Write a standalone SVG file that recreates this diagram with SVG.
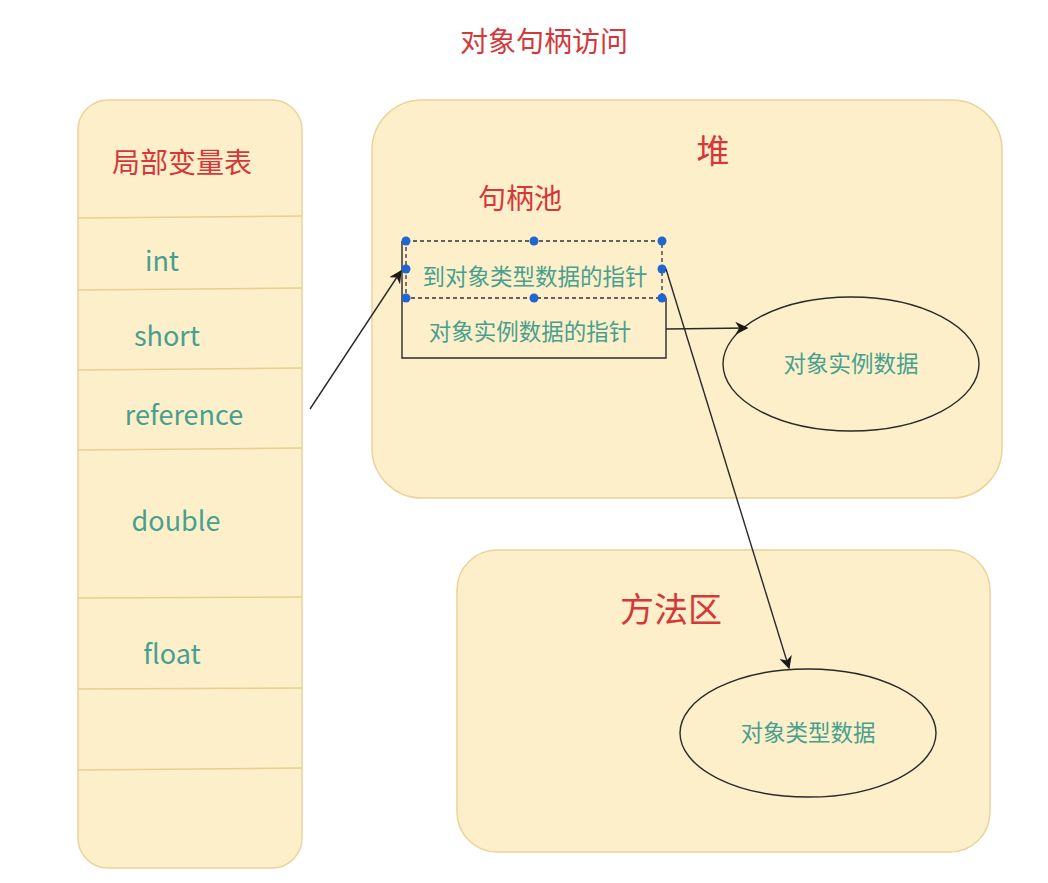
<svg xmlns="http://www.w3.org/2000/svg" width="1048" height="883" viewBox="0 0 1048 883">
<defs>
<style>
.box{fill:#fdefc9;stroke:#ead49a;stroke-width:1.5}
.sep{stroke:#e6cf8f;stroke-width:1.5;fill:none}
.red{fill:#d4383b;font-family:"Noto Sans CJK SC","Noto Sans",sans-serif;text-anchor:middle}
.teal{fill:#47a08f;font-family:"Noto Sans CJK SC","Noto Sans",sans-serif;text-anchor:middle}
.line{stroke:#2a2a2a;stroke-width:1.4;fill:none}
.ell{fill:#fdefc9;stroke:#2a2a2a;stroke-width:1.4}
.h{fill:#1f66d1}
</style>
<marker id="arr" viewBox="0 0 10 10" refX="9" refY="5" markerWidth="13" markerHeight="13" markerUnits="userSpaceOnUse" orient="auto">
<path d="M0,0 L10,5 L0,10 L3,5 Z" fill="#1a1a1a"/>
</marker>
</defs>
<rect width="1048" height="883" fill="#ffffff"/>
<text class="red" x="544" y="52" font-size="28">对象句柄访问</text>

<g id="local-table">
<rect class="box" x="78" y="100" width="224" height="768" rx="30"/>
<line class="sep" x1="78" y1="218" x2="302" y2="216"/>
<line class="sep" x1="78" y1="290" x2="302" y2="288"/>
<line class="sep" x1="78" y1="370" x2="302" y2="368"/>
<line class="sep" x1="78" y1="450" x2="302" y2="448"/>
<line class="sep" x1="78" y1="598" x2="302" y2="597"/>
<line class="sep" x1="78" y1="689" x2="302" y2="688"/>
<line class="sep" x1="78" y1="770" x2="302" y2="768"/>
<text class="red" x="182" y="173" font-size="28">局部变量表</text>
<text class="teal" x="162" y="271" font-size="27">int</text>
<text class="teal" x="167" y="346" font-size="27">short</text>
<text class="teal" x="184" y="425" font-size="27">reference</text>
<text class="teal" x="176" y="531" font-size="27">double</text>
<text class="teal" x="172" y="664" font-size="27">float</text>
</g>

<g id="heap">
<rect class="box" x="372" y="100" width="630" height="398" rx="50"/>
<text class="red" x="713" y="163" font-size="33">堆</text>
<text class="red" x="520" y="209" font-size="28">句柄池</text>
</g>

<g id="handle-pool">
<path class="line" d="M402,241 V358 H666 V298"/>
<rect x="406" y="241" width="256" height="57" fill="none" stroke="#333" stroke-width="1.3" stroke-dasharray="4,3"/>
<text class="teal" x="535" y="285" font-size="22.5">到对象类型数据的指针</text>
<text class="teal" x="530" y="340" font-size="22.5">对象实例数据的指针</text>
<circle class="h" cx="406" cy="241" r="4.5"/>
<circle class="h" cx="534" cy="241" r="4.5"/>
<circle class="h" cx="662" cy="241" r="4.5"/>
<circle class="h" cx="406" cy="269" r="4.5"/>
<circle class="h" cx="662" cy="269" r="4.5"/>
<circle class="h" cx="406" cy="298" r="4.5"/>
<circle class="h" cx="534" cy="298" r="4.5"/>
<circle class="h" cx="662" cy="298" r="4.5"/>
</g>

<g id="instance-data">
<ellipse class="ell" cx="851" cy="364" rx="128" ry="67"/>
<text class="teal" x="851" y="372" font-size="22.5">对象实例数据</text>
</g>

<g id="method-area">
<rect class="box" x="457" y="550" width="533" height="302" rx="40"/>
<text class="red" x="671" y="622" font-size="34">方法区</text>
</g>

<g id="type-data">
<ellipse class="ell" cx="808" cy="733" rx="128" ry="64"/>
<text class="teal" x="808" y="741" font-size="22.5">对象类型数据</text>
</g>

<g id="connectors">
<line class="line" x1="310" y1="409" x2="401" y2="271" marker-end="url(#arr)"/>
<line class="line" x1="666" y1="329" x2="747" y2="328" marker-end="url(#arr)"/>
<line class="line" x1="666" y1="269" x2="789" y2="668" marker-end="url(#arr)"/>
</g>
</svg>
